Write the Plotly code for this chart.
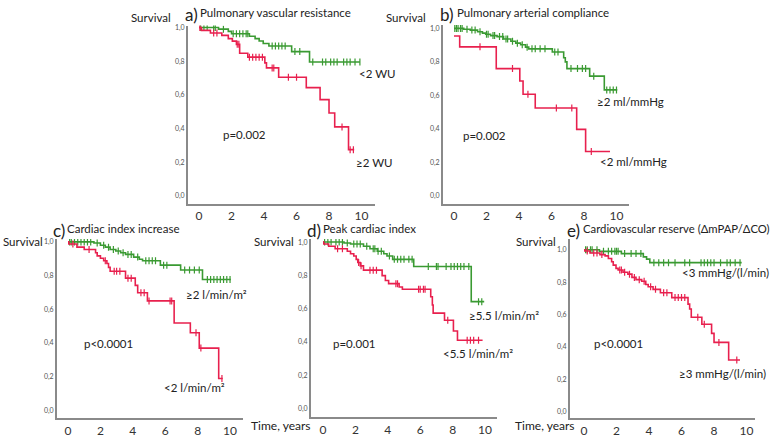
import plotly.graph_objects as go

W, H = 777, 438
GREEN = "#3a9a32"
RED = "#e8204e"
AX = "#8a8a8a"
FONT = "Lato"

# ---------------- data (time in years, survival) ----------------
# a) Pulmonary vascular resistance
a_green_t = [0, 1.2, 1.8, 2.0, 3.1, 3.45, 3.7, 3.95, 4.3, 5.7, 6.8, 9.9]
a_green_s = [1.0, 0.99, 0.977, 0.963, 0.948, 0.934, 0.92, 0.905, 0.89, 0.857, 0.795, 0.795]
a_green_c = [0.1, 0.3, 0.5, 0.9, 1.0, 1.5, 2.1, 2.3, 2.5, 2.7, 2.9, 3.0, 4.5, 4.7, 4.9, 5.1, 5.3,
             5.9, 6.2, 7.0, 7.6, 7.8, 8.1, 8.3, 8.5, 8.9, 9.1, 9.3, 9.6, 9.9]
a_red_t = [0, 0.15, 0.7, 1.4, 1.8, 2.05, 2.3, 2.5, 3.0, 4.05, 4.15, 4.9, 6.6, 7.45, 8.0, 8.35, 9.2, 9.55]
a_red_s = [1.0, 0.983, 0.967, 0.953, 0.934, 0.919, 0.9, 0.847, 0.824, 0.79, 0.76, 0.705, 0.643,
           0.572, 0.492, 0.41, 0.275, 0.275]
a_red_c = [0.05, 0.9, 1.1, 2.35, 2.45, 3.1, 3.3, 3.5, 3.7, 3.9, 4.5, 4.6, 5.5, 6.0, 8.8, 9.3, 9.5]

# b) Pulmonary arterial compliance
b_green_t = [0, 0.6, 1.0, 1.45, 1.75, 1.95, 2.25, 2.65, 3.05, 3.5, 3.8, 4.1, 4.4, 4.6, 6.05,
             6.75, 6.85, 6.95, 8.35, 9.25, 10.05]
b_green_s = [1.0, 0.995, 0.99, 0.98, 0.972, 0.965, 0.957, 0.951, 0.937, 0.923, 0.912, 0.902,
             0.888, 0.878, 0.859, 0.825, 0.8, 0.76, 0.715, 0.633, 0.633]
b_green_c = [0.05, 0.15, 0.25, 0.4, 0.5, 0.8, 1.1, 1.3, 1.6, 2.0, 2.1, 2.4, 2.5, 2.8, 3.0, 3.2,
             3.3, 3.6, 3.9, 4.2, 4.5, 4.8, 5.0, 5.3, 5.6, 6.2, 6.4, 7.2, 7.6, 7.9, 8.1, 8.6,
             9.4, 9.6, 9.8, 10.0]
b_red_t = [0, 0.35, 2.6, 4.05, 4.25, 5.0, 7.55, 8.1, 9.6]
b_red_s = [0.955, 0.89, 0.76, 0.686, 0.607, 0.525, 0.397, 0.265, 0.265]
b_red_c = [1.6, 3.6, 4.55, 6.3, 7.25, 8.45]

# c) Cardiac index increase
c_green_t = [0, 1.6, 2.0, 2.3, 2.6, 2.95, 3.25, 3.55, 4.05, 4.4, 4.6, 5.7, 6.95, 8.3, 10.05]
c_green_s = [1.0, 0.994, 0.98, 0.969, 0.955, 0.946, 0.936, 0.926, 0.91, 0.897, 0.888, 0.862,
             0.833, 0.777, 0.777]
c_green_c = [0.1, 0.2, 0.4, 0.6, 0.8, 1.0, 1.2, 1.4, 1.8, 2.2, 2.5, 2.8, 3.1, 3.4, 3.7, 3.9,
             4.3, 4.8, 5.0, 5.2, 5.4, 5.9, 6.1, 7.2, 7.5, 7.8, 8.1, 8.6, 8.8, 9.0, 9.2, 9.4,
             9.6, 9.8, 10.0]
c_red_t = [0, 0.05, 0.55, 1.0, 1.7, 1.8, 2.0, 2.2, 2.4, 2.5, 2.6, 3.55, 4.15, 4.3, 4.9, 6.55,
           7.55, 8.1, 9.3, 9.55]
c_red_s = [1.0, 0.988, 0.969, 0.955, 0.936, 0.917, 0.903, 0.888, 0.872, 0.849, 0.826, 0.785,
           0.742, 0.698, 0.65, 0.519, 0.461, 0.37, 0.19, 0.19]
c_red_c = [0.3, 1.3, 2.3, 2.85, 3.0, 3.2, 3.7, 3.9, 4.5, 4.7, 5.0, 6.3, 6.4, 7.9, 8.2, 9.5]

# d) Peak cardiac index
d_green_t = [0, 1.3, 1.7, 2.5, 2.9, 3.35, 3.75, 3.95, 4.3, 5.6, 9.15, 9.95]
d_green_s = [1.0, 0.994, 0.988, 0.975, 0.96, 0.945, 0.93, 0.916, 0.896, 0.853, 0.642, 0.642]
d_green_c = [0.1, 0.3, 0.5, 0.8, 1.0, 1.2, 1.5, 1.9, 2.1, 2.3, 2.7, 3.1, 3.2, 3.4, 3.6, 4.1,
             4.4, 4.6, 4.8, 5.0, 5.3, 5.5, 6.5, 7.0, 7.1, 7.6, 7.9, 8.1, 8.3, 8.5, 8.7, 9.0,
             9.6, 9.8]
d_red_t = [0, 0.05, 0.35, 0.75, 1.5, 1.7, 1.9, 2.05, 2.15, 2.3, 2.5, 3.65, 3.85, 4.05, 4.7,
           4.9, 6.65, 6.75, 6.8, 7.5, 8.05, 8.3, 9.85]
d_red_s = [1.0, 0.988, 0.975, 0.96, 0.945, 0.93, 0.916, 0.896, 0.877, 0.857, 0.831, 0.798,
           0.769, 0.75, 0.73, 0.716, 0.671, 0.622, 0.573, 0.53, 0.466, 0.41, 0.41]
d_red_c = [0.9, 1.2, 2.2, 2.35, 2.9, 3.1, 3.3, 4.5, 4.6, 5.9, 6.0, 6.2, 6.3, 7.7, 8.9, 9.1,
           9.3, 9.6]

# e) Cardiovascular reserve
e_green_t = [0, 0.95, 2.3, 3.65, 3.85, 4.05, 9.7]
e_green_s = [1.0, 0.99, 0.976, 0.956, 0.942, 0.92, 0.92]
e_green_c = [0.1, 0.2, 0.4, 0.5, 0.8, 1.2, 1.5, 1.7, 1.9, 2.0, 2.1, 2.5, 2.9, 3.2, 3.5, 4.3,
             4.6, 4.9, 5.2, 5.6, 6.2, 6.5, 7.2, 7.4, 7.6, 7.8, 8.0, 8.4, 8.8, 9.0, 9.3, 9.6]
e_red_t = [0, 0.05, 0.37, 0.98, 1.3, 1.5, 1.7, 1.8, 1.97, 2.1, 2.4, 2.7, 2.95, 3.2, 3.55, 3.8,
           3.95, 4.25, 4.7, 5.4, 6.4, 6.5, 6.6, 7.25, 7.85, 8.0, 8.9, 9.6]
e_red_s = [1.0, 0.992, 0.98, 0.97, 0.962, 0.946, 0.926, 0.905, 0.885, 0.875, 0.861, 0.849,
           0.829, 0.815, 0.805, 0.785, 0.771, 0.755, 0.734, 0.704, 0.664, 0.634, 0.583, 0.539,
           0.483, 0.427, 0.318, 0.318]
e_red_c = [0.2, 0.6, 0.8, 1.1, 2.2, 2.3, 2.5, 2.8, 3.1, 3.4, 3.7, 4.1, 4.4, 4.9, 5.1, 5.6,
           5.8, 6.0, 6.2, 7.0, 7.4, 8.3, 9.4]

x_ticks = [0, 2, 4, 6, 8, 10]
y_ticks = [0.0, 0.2, 0.4, 0.6, 0.8, 1.0]
y_ticktext = ["0,0", "0,2", "0,4", "0,6", "0,8", "1,0"]

panels = [
    dict(letter="a)", title="Pulmonary vascular resistance",
         curves=[(a_green_t, a_green_s, a_green_c, GREEN), (a_red_t, a_red_s, a_red_c, RED)],
         box=(188, 375, 23, 205), xr=[-0.68, 10.83], yr=[-0.0465, 1.0116],
         lt=(184, 12), tt=(199, 10), st=(130, 15), tsize=11.5,
         texts=[("p=0.002", 222, 134), ("<2 WU", 358, 72), ("≥2 WU", 355, 163)]),
    dict(letter="b)", title="Pulmonary arterial compliance",
         curves=[(b_green_t, b_green_s, b_green_c, GREEN), (b_red_t, b_red_s, b_red_c, RED)],
         box=(443, 629, 22, 205), xr=[-0.677, 10.77], yr=[-0.047, 1.023],
         lt=(439, 12), tt=(456, 10), st=(385, 15), tsize=11.5,
         texts=[("p=0.002", 462, 135), ("≥2 ml/mmHg", 596, 101), ("<2 ml/mmHg", 599, 162)]),
    dict(letter="c)", title="Cardiac index increase",
         curves=[(c_green_t, c_green_s, c_green_c, GREEN), (c_red_t, c_red_s, c_red_c, RED)],
         box=(57, 243, 241, 424), xr=[-0.68, 10.80], yr=[-0.0465, 1.017],
         lt=(52, 232), tt=(66, 230), st=(2, 243), tsize=11.5,
         texts=[("p<0.0001", 83, 348), ("≥2 l/min/m²", 185, 298), ("<2 l/min/m²", 163, 393)]),
    dict(letter="d)", title="Peak cardiac index",
         curves=[(d_green_t, d_green_s, d_green_c, GREEN), (d_red_t, d_red_s, d_red_c, RED)],
         box=(311, 497, 241, 423), xr=[-0.74, 10.74], yr=[-0.053, 1.018],
         lt=(306, 232), tt=(322, 230), st=(253, 243), tsize=11.5,
         texts=[("p=0.001", 332, 348), ("≥5.5 l/min/m²", 468, 319), ("<5.5 l/min/m²", 442, 358)]),
    dict(letter="e)", title="Cardiovascular reserve (ΔmPAP/ΔCO)",
         curves=[(e_green_t, e_green_s, e_green_c, GREEN), (e_red_t, e_red_s, e_red_c, RED)],
         box=(570, 755, 241, 424), xr=[-0.86, 10.52], yr=[-0.042, 1.066],
         lt=(566, 232), tt=(582, 230), st=(515, 243), tsize=11.3,
         texts=[("<3 mmHg/(l/min)", 681, 275), ("p<0.0001", 593, 348), ("≥3 mmHg/(l/min)", 678, 378)]),
]


def step_value(ts, ss, t):
    v = ss[0]
    for ti, si in zip(ts, ss):
        if ti <= t:
            v = si
    return v


fig = go.Figure()
annotations = []


def ann(text, X, Y, size, xanchor="left", color="#222"):
    annotations.append(dict(text=text, x=X / W, y=1 - Y / H, xref="paper", yref="paper",
                            xanchor=xanchor, yanchor="middle", showarrow=False, borderpad=0,
                            font=dict(family=FONT, size=size, color=color)))


layout = {}
for i, p in enumerate(panels, start=1):
    xa = "x" if i == 1 else f"x{i}"
    ya = "y" if i == 1 else f"y{i}"
    for ts, ss, cs, col in p["curves"]:
        fig.add_trace(go.Scatter(x=ts, y=ss, mode="lines", line=dict(color=col, width=1.6, shape="hv"),
                                 xaxis=xa, yaxis=ya, showlegend=False, hoverinfo="skip"))
        fig.add_trace(go.Scatter(x=cs, y=[step_value(ts, ss, c) for c in cs], mode="markers",
                                 marker=dict(symbol="line-ns", size=5, line=dict(color=col, width=1.2)),
                                 xaxis=xa, yaxis=ya, showlegend=False, hoverinfo="skip"))
    x0, x1, yt, yb = p["box"]
    layout["xaxis" if i == 1 else f"xaxis{i}"] = dict(
        domain=[x0 / W, x1 / W], range=p["xr"], anchor=ya, showline=True, linecolor=AX, linewidth=2,
        showgrid=False, zeroline=False, tickvals=x_ticks, ticks="", ticklen=0,
        tickfont=dict(family=FONT, size=12, color="#333"), fixedrange=True)
    layout["yaxis" if i == 1 else f"yaxis{i}"] = dict(
        domain=[1 - yb / H, 1 - yt / H], range=p["yr"], anchor=xa, showline=True, linecolor=AX,
        linewidth=2, showgrid=False, zeroline=False, tickvals=y_ticks, ticktext=y_ticktext,
        ticks="", tickfont=dict(family=FONT, size=7, color="#555"), fixedrange=True)
    ann(p["letter"], p["lt"][0], p["lt"][1], 17)
    ann(p["title"], p["tt"][0], p["tt"][1], p["tsize"])
    ann("Survival", p["st"][0], p["st"][1], 11.5)
    for txt, X, Y in p["texts"]:
        ann(txt, X, Y, 11.5)

ann("Time, years", 311, 431, 12, xanchor="right")
ann("Time, years", 575, 431, 12, xanchor="right")

fig.update_layout(width=W, height=H, margin=dict(l=0, r=0, t=0, b=0),
                  paper_bgcolor="white", plot_bgcolor="white", annotations=annotations,
                  font=dict(family=FONT), hovermode=False, **layout)
fig.write_html("out.html", config={"displayModeBar": False, "staticPlot": True},
               post_script="document.body.style.margin='0';document.body.style.overflow='hidden';")
